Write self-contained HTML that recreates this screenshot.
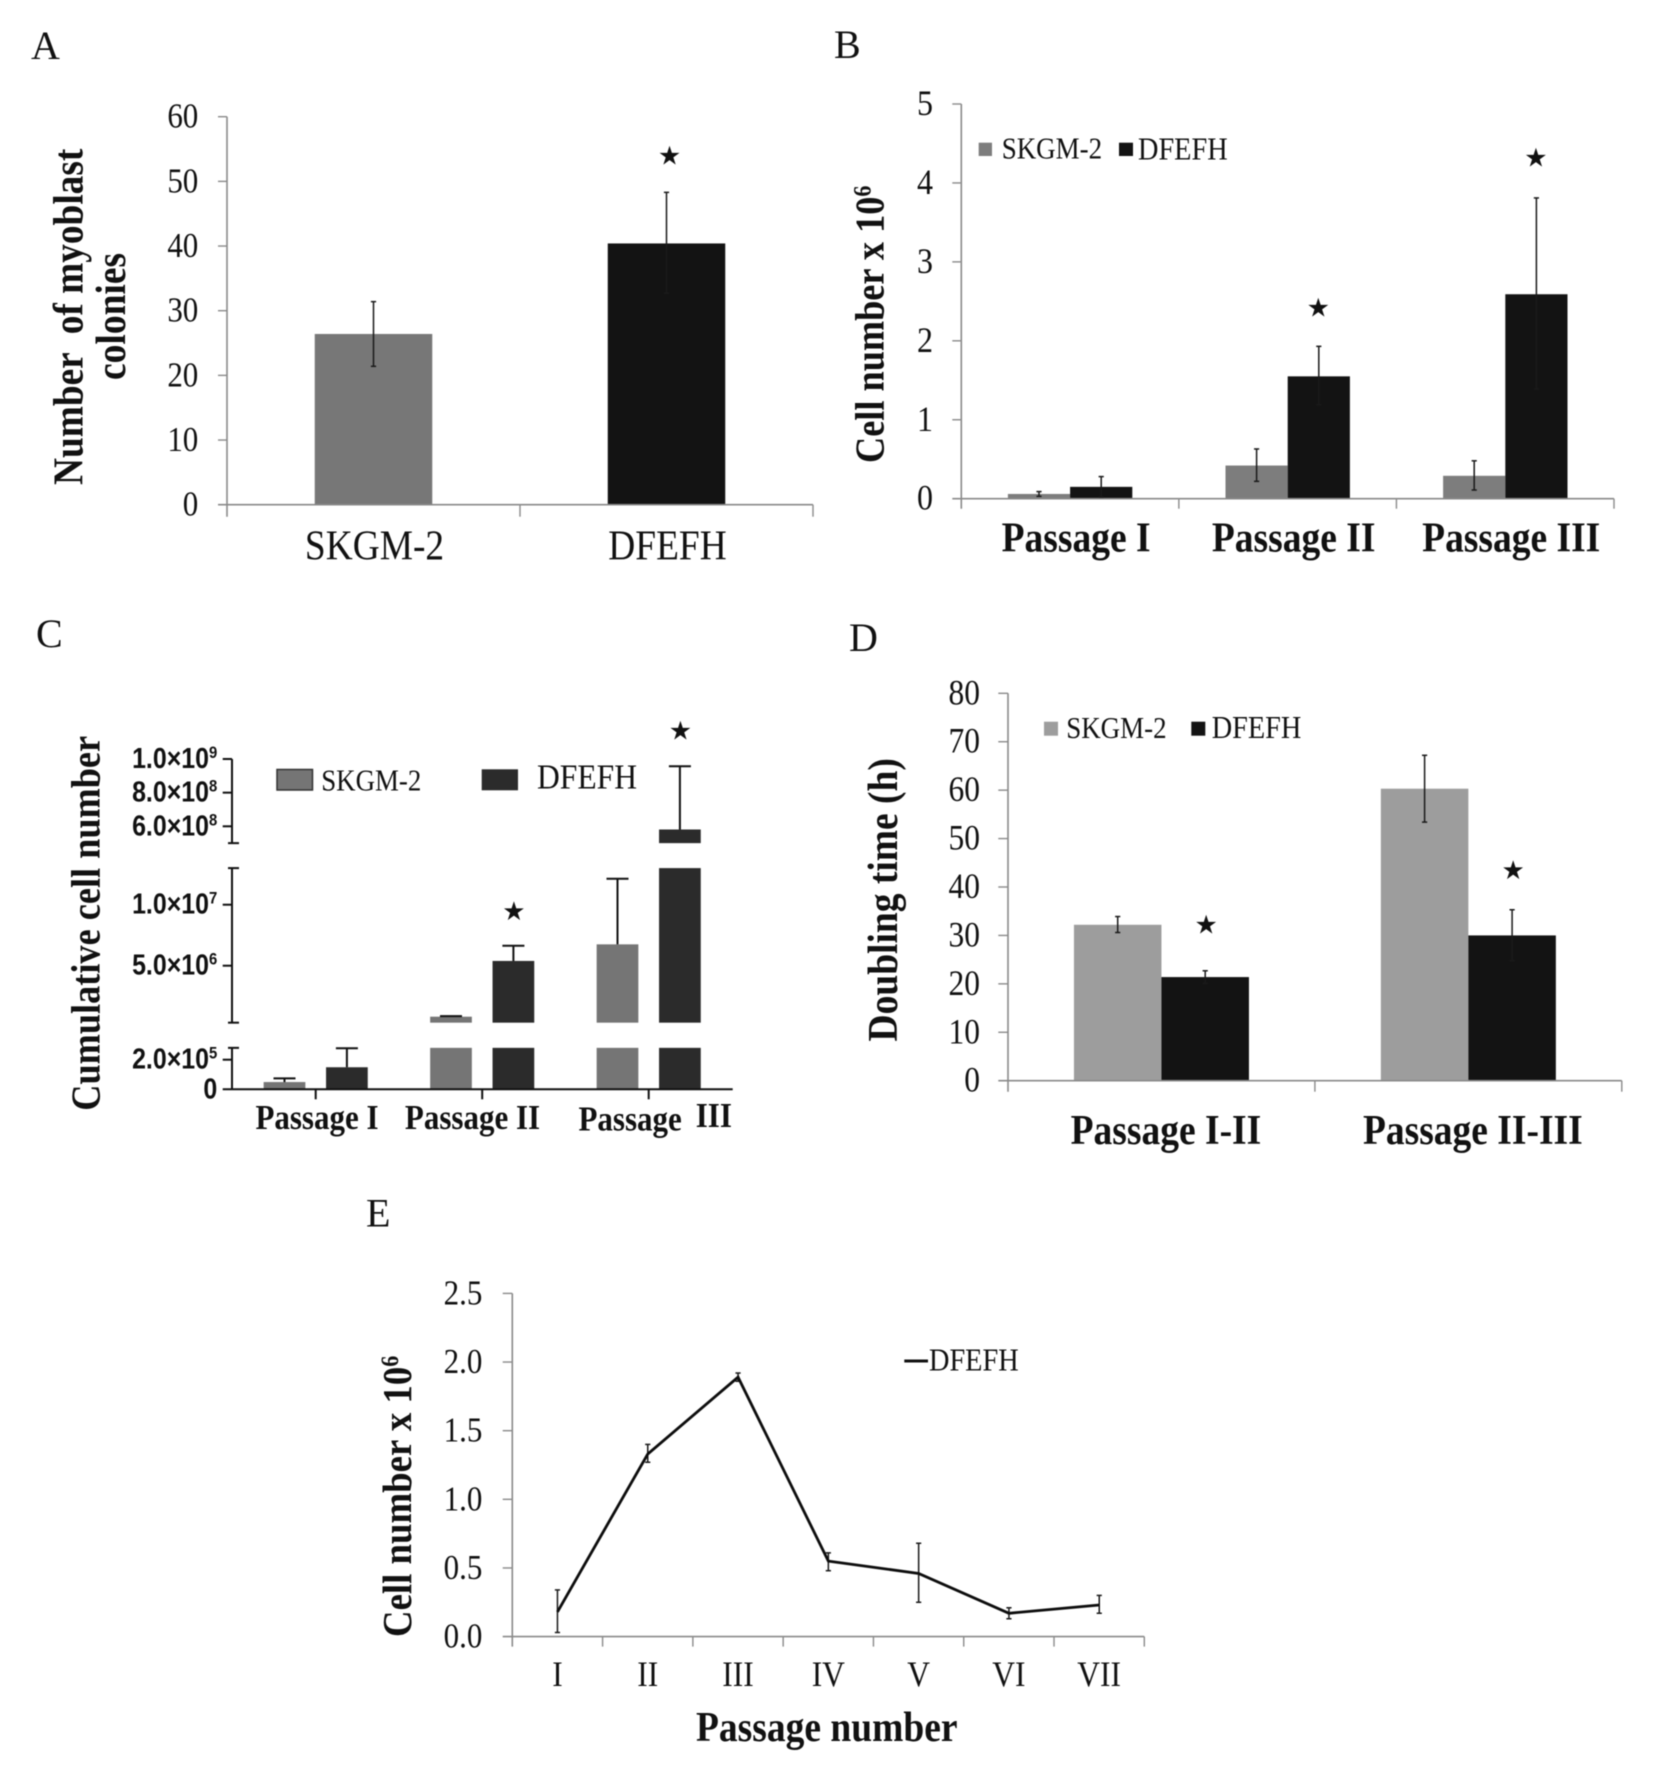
<!DOCTYPE html>
<html lang="en">
<head>
<meta charset="utf-8">
<title>Myoblast culture charts</title>
<style>
html,body{margin:0;padding:0;background:#fff;}
svg{display:block;filter:blur(0.4px);}
text{font-family:"Liberation Serif","Times New Roman",serif;fill:#111;}
.b{font-weight:bold;}
.sans{font-family:"Liberation Sans",Arial,sans-serif;font-weight:bold;}
.star{font-family:"DejaVu Sans",sans-serif;font-size:26px;text-anchor:middle;}
</style>
</head>
<body>
<svg id="figure" width="1654" height="1776" viewBox="0 0 1654 1776" xmlns="http://www.w3.org/2000/svg">
  <rect x="0" y="0" width="1654" height="1776" fill="#fff"/>

  <g id="panelA">
    <text x="31" y="59" font-size="40">A</text>
    <text class="b" font-size="42.2" xml:space="preserve" transform="translate(82.3,485) rotate(-90) scale(.885,1)">Number  of myoblast</text>
    <text class="b" font-size="42.4" transform="translate(125,380) rotate(-90) scale(.885,1)">colonies</text>
  </g>

  <g id="panelB">
    <text x="834" y="58" font-size="40">B</text>
    <text class="b" font-size="41" transform="translate(883.3,463) rotate(-90) scale(.885,1)">Cell number x 10<tspan dy="-13" font-size="25">6</tspan></text>
    <rect x="978.7" y="142.7" width="13.3" height="13.3" fill="#7d7d7d"/>
    <text font-size="30.5" transform="translate(1001.7,158.3) scale(.885,1)">SKGM-2</text>
    <rect x="1119" y="142.7" width="14" height="13.3" fill="#131313"/>
    <text font-size="32" transform="translate(1138,159.3) scale(.885,1)">DFEFH</text>
  </g>

  <g id="panelC">
    <text x="36" y="647" font-size="40">C</text>
    <text class="b" font-size="41" transform="translate(99.3,1110.7) rotate(-90) scale(.885,1)">Cumulative cell number</text>
    <rect x="277" y="769.5" width="35.5" height="20.5" fill="#757575" stroke="#333" stroke-width="1.5"/>
    <text font-size="30.4" transform="translate(321.2,790.7) scale(.885,1)">SKGM-2</text>
    <rect x="481.7" y="769.3" width="36.3" height="21" fill="#2b2b2b"/>
    <text x="537" y="788.3" font-size="35" textLength="100" lengthAdjust="spacingAndGlyphs">DFEFH</text>
  </g>

  <g id="panelD">
    <text x="849" y="651" font-size="40">D</text>
    <text class="b" font-size="42.4" transform="translate(897,1041.5) rotate(-90) scale(.885,1)">Doubling time (h)</text>
    <rect x="1044" y="721.7" width="14" height="14" fill="#9d9d9d"/>
    <text font-size="30.5" transform="translate(1066.2,738) scale(.885,1)">SKGM-2</text>
    <rect x="1191.3" y="721.7" width="14" height="14" fill="#131313"/>
    <text font-size="32" transform="translate(1211.7,738) scale(.885,1)">DFEFH</text>
  </g>

  <g id="panelE">
    <text x="366" y="1226.7" font-size="40">E</text>
    <text class="b" font-size="41.6" transform="translate(411,1637) rotate(-90) scale(.885,1)">Cell number x 10<tspan dy="-13" font-size="25">6</tspan></text>
    <text class="b" font-size="42.4" transform="translate(696,1741) scale(.885,1)">Passage number</text>
    <line x1="904.3" x2="928" y1="1361" y2="1361" stroke="#111" stroke-width="3"/>
    <text font-size="32" transform="translate(929,1370.5) scale(.885,1)">DFEFH</text>
  </g>
</svg>

<script>
// Panel A data
const aCategories = ['SKGM-2', 'DFEFH'];
const aValues = [26.4, 40.4];
const aErrHigh = [31.4, 48.3];
const aErrLow = [21.4, 32.7];
const aTicks = [0, 10, 20, 30, 40, 50, 60];
const aStarValues = [null, 54.1];

// Panel B data
const bCategories = ['Passage I', 'Passage II', 'Passage III'];
const bSkgm = [0.06, 0.42, 0.29];
const bDfefh = [0.15, 1.55, 2.59];
const bSkgmHigh = [0.09, 0.63, 0.48];
const bSkgmLow = [0.03, 0.22, 0.11];
const bDfefhHigh = [0.28, 1.93, 3.81];
const bDfefhLow = [0.02, 1.19, 1.39];
const bTicks = [0, 1, 2, 3, 4, 5];
const bStarValues = [null, 2.43, 4.33];

// Panel C data (broken axis)
const cCategories = ['Passage I', 'Passage II', 'Passage III'];
const cSkgm = [49000, 820000, 6750000];
const cDfefh = [149000, 5390000, 581000000];
const cSkgmHigh = [74000, 870000, 12130000];
const cDfefhHigh = [277000, 6640000, 957000000];
const cTicks = [0, 200000, 5000000, 10000000, 600000000, 800000000, 1000000000];
const cTickBases = ['0', '2.0×10', '5.0×10', '1.0×10', '6.0×10', '8.0×10', '1.0×10'];
const cTickExponents = ['', '5', '6', '7', '8', '8', '9'];
const cAxisBreaks = [[0, 280000], [330000, 13000000], [500000000, 1000000000]];
const cStarValues = [null, 9510000, 1172000000];

// Panel D data
const dCategories = ['Passage I-II', 'Passage II-III'];
const dSkgm = [32.2, 60.3];
const dDfefh = [21.4, 30];
const dSkgmHigh = [33.9, 67.2];
const dSkgmLow = [30.6, 53.4];
const dDfefhHigh = [22.7, 35.3];
const dDfefhLow = [20.1, 24.8];
const dTicks = [0, 10, 20, 30, 40, 50, 60, 70, 80];
const dStarValues = [32.4, 43.6];

// Panel E data
const eCategories = ['I', 'II', 'III', 'IV', 'V', 'VI', 'VII'];
const eValues = [0.18, 1.33, 1.89, 0.55, 0.46, 0.17, 0.23];
const eErrHigh = [0.34, 1.40, 1.92, 0.61, 0.68, 0.21, 0.30];
const eErrLow = [0.03, 1.27, 1.86, 0.48, 0.25, 0.13, 0.17];
const eTicks = [0, 0.5, 1, 1.5, 2, 2.5];

const NS = 'http://www.w3.org/2000/svg';
function make(tag, parent, attrs, content) {
  const node = document.createElementNS(NS, tag);
  for (const key in attrs) node.setAttribute(key, attrs[key]);
  if (content !== undefined) node.textContent = content;
  parent.appendChild(node);
  return node;
}

const AXIS_GRAY = '#8a8a8a';
const TEXT_STRETCH = 1.13;

function drawLine(parent, x1, y1, x2, y2, color, width, name) {
  const el = make('line', parent, {x1: x1, y1: y1, x2: x2, y2: y2, stroke: color, 'stroke-width': width});
  
  
  return el;
}

function drawBar(parent, x, width, yTop, yBottom, fill, name) {
  const el = make('rect', parent, {x: x, y: yTop, width: width, height: yBottom - yTop, fill: fill});
  
  
  return el;
}

function drawErrorBar(parent, x, yHigh, yLow, name) {
  const g = make('g', parent, {stroke: '#1a1a1a', 'stroke-width': 1.5});
  
  
  make('line', g, {x1: x, x2: x, y1: yHigh, y2: yLow});
  make('line', g, {x1: x - 2.6, x2: x + 2.6, y1: yHigh, y2: yHigh});
  make('line', g, {x1: x - 2.6, x2: x + 2.6, y1: yLow, y2: yLow});
  return g;
}

function drawStar(parent, x, y, name) {
  const el = make('text', parent, {x: x, y: y + 9.5, class: 'star'}, '★');
  
  
  return el;
}

// Text in the figure is slightly tall and narrow, so glyphs are drawn larger and squeezed horizontally.
function drawLabel(parent, x, y, anchor, size, bold, content, name) {
  const el = make('text', parent, {
    'text-anchor': anchor,
    'font-size': size * TEXT_STRETCH,
    transform: 'translate(' + x + ',' + y + ') scale(' + (1 / TEXT_STRETCH) + ',1)'
  }, content);
  if (bold) el.setAttribute('class', 'b');
  
  
  return el;
}

// Draws the gray spreadsheet-style axes shared by panels A, B, D and E.
function drawGrayAxes(parent, cfg) {
  drawLine(parent, cfg.x0, cfg.yTop, cfg.x0, cfg.y0 + cfg.tickDown, AXIS_GRAY, 1.6, 'y-axis-line');
  drawLine(parent, cfg.x0 - cfg.tickLeft, cfg.y0, cfg.x1, cfg.y0, AXIS_GRAY, 1.6, 'x-axis-line');
  cfg.ticks.forEach(function (t) {
    const y = cfg.y(t);
    if (t !== 0) drawLine(parent, cfg.x0 - cfg.tickLeft, y, cfg.x0, y, AXIS_GRAY, 1.4, 'y-tick-' + t);
    drawLabel(parent, cfg.labelRight, y + cfg.labelDy, 'end', cfg.tickFont, false, cfg.format(t), 'y-tick-label-' + t);
  });
  const n = cfg.categories.length;
  const step = (cfg.x1 - cfg.x0) / n;
  for (let i = 1; i <= n; i++) {
    const x = cfg.x0 + i * step;
    drawLine(parent, x, cfg.y0, x, cfg.y0 + cfg.tickDown, AXIS_GRAY, 1.4, 'x-tick-' + i);
  }
  cfg.categories.forEach(function (c, i) {
    drawLabel(parent, cfg.x0 + (i + 0.5) * step + cfg.catDx, cfg.catY, 'middle', cfg.catFont, cfg.catBold, c, 'x-tick-label-' + c.toLowerCase().replace(/\s+/g, '-'));
  });
}

/* ---------- Panel A ---------- */
(function () {
  const g = document.getElementById('panelA');
  const y = function (v) { return 504.7 - v * (504.7 - 116.7) / 60; };
  const x = function (i) { return 227 + (i + 0.5) * 293; };
  const colors = ['#777777', '#131313'];
  const barW = 117.5;
  aCategories.forEach(function (c, i) {
    drawBar(g, x(i) - barW / 2, barW, y(aValues[i]), y(0), colors[i], 'bar-' + c.toLowerCase());
  });
  drawGrayAxes(g, {
    x0: 227, x1: 813, y0: y(0), yTop: y(60), y: y, ticks: aTicks, categories: aCategories,
    tickLeft: 9, tickDown: 12, labelRight: 198.3, labelDy: 11, tickFont: 31,
    format: String, catDx: 1, catY: 559.5, catFont: 37.4, catBold: false
  });
  aCategories.forEach(function (c, i) {
    drawErrorBar(g, x(i), y(aErrHigh[i]), y(aErrLow[i]), 'error-bar-' + c.toLowerCase());
    if (aStarValues[i] !== null) drawStar(g, x(i) + 3, y(aStarValues[i]), 'significance-star-' + c.toLowerCase());
  });
})();

/* ---------- Panel B ---------- */
(function () {
  const g = document.getElementById('panelB');
  const y = function (v) { return 498.7 - v * (498.7 - 104) / 5; };
  const x = function (i) { return 961.3 + (i + 0.5) * 217.6; };
  const barW = 62.2;
  bCategories.forEach(function (c, i) {
    const slug = c.toLowerCase().replace(/\s+/g, '-');
    drawBar(g, x(i) - barW, barW, y(bSkgm[i]), y(0), '#7d7d7d', 'bar-skgm-2-' + slug);
    drawBar(g, x(i), barW, y(bDfefh[i]), y(0), '#131313', 'bar-dfefh-' + slug);
  });
  drawGrayAxes(g, {
    x0: 961.3, x1: 1614, y0: y(0), yTop: y(5), y: y, ticks: bTicks, categories: bCategories,
    tickLeft: 9, tickDown: 10, labelRight: 933, labelDy: 11, tickFont: 32,
    format: String, catDx: 6, catY: 551.5, catFont: 37.5, catBold: true
  });
  bCategories.forEach(function (c, i) {
    const slug = c.toLowerCase().replace(/\s+/g, '-');
    drawErrorBar(g, x(i) - barW / 2, y(bSkgmHigh[i]), y(bSkgmLow[i]), 'error-bar-skgm-2-' + slug);
    drawErrorBar(g, x(i) + barW / 2, y(bDfefhHigh[i]), y(bDfefhLow[i]), 'error-bar-dfefh-' + slug);
    if (bStarValues[i] !== null) drawStar(g, x(i) + barW / 2 - 0.5, y(bStarValues[i]), 'significance-star-' + slug);
  });
})();

/* ---------- Panel C (broken axis) ---------- */
(function () {
  const g = document.getElementById('panelC');
  const y = function (v) {
    if (v <= cAxisBreaks[0][1]) return 1089.3 - v * 29.6 / 200000;
    if (v <= cAxisBreaks[1][1]) return 965.7 - (v - 5000000) * 61 / 5000000;
    return 759 - (v - 1000000000) * 33.65 / 200000000;
  };
  const x = function (i) { return 315.7 + i * 166.5; };
  const barW = 41.7;
  const offset = 31.2;
  const AX = '#111';

  function brokenBar(value, cx, fill, name) {
    cAxisBreaks.forEach(function (seg, s) {
      if (value > seg[0]) {
        drawBar(g, cx - barW / 2, barW, y(Math.min(value, seg[1])), y(seg[0]), fill, name + '-segment-' + (s + 1));
      }
    });
  }
  function upperError(value, high, cx, name) {
    const e = make('g', g, {stroke: '#111', 'stroke-width': 2});
    
    
    make('line', e, {x1: cx, x2: cx, y1: y(high), y2: y(value)});
    make('line', e, {x1: cx - 11, x2: cx + 11, y1: y(high), y2: y(high)});
  }

  cCategories.forEach(function (c, i) {
    const slug = c.toLowerCase().replace(/\s+/g, '-');
    brokenBar(cSkgm[i], x(i) - offset, '#757575', 'bar-skgm-2-' + slug);
    brokenBar(cDfefh[i], x(i) + offset, '#2b2b2b', 'bar-dfefh-' + slug);
    upperError(cSkgm[i], cSkgmHigh[i], x(i) - offset, 'error-bar-skgm-2-' + slug);
    upperError(cDfefh[i], cDfefhHigh[i], x(i) + offset, 'error-bar-dfefh-' + slug);
    if (cStarValues[i] !== null) drawStar(g, x(i) + offset + 0.5, y(cStarValues[i]), 'significance-star-' + slug);
    const tx = x(i);
    drawLine(g, tx, y(0), tx, y(0) + 10, AX, 2, 'x-tick-' + (i + 1));
  });

  // Broken y axis: one stroke per data range with end caps
  cAxisBreaks.forEach(function (seg, s) {
    const top = y(seg[1]);
    const bottom = y(seg[0]);
    drawLine(g, 232, top, 232, bottom, AX, 2, 'y-axis-segment-' + (s + 1));
    if (s !== 2) drawLine(g, 228, top, 239, top, AX, 2, 'y-axis-break-cap-top-' + (s + 1));
    if (s !== 0) drawLine(g, 228, bottom, 239, bottom, AX, 2, 'y-axis-break-cap-bottom-' + (s + 1));
  });
  drawLine(g, 222.7, y(0), 732.7, y(0), AX, 2, 'x-axis-line');

  cTicks.forEach(function (t, i) {
    const ty = y(t);
    if (t !== 0) drawLine(g, 222.7, ty, 232, ty, AX, 2, 'y-tick-' + i);
    const label = make('text', g, {
      'text-anchor': 'end',
      'font-size': 28.5,
      class: 'sans',
      transform: 'translate(217.3,' + (ty + 9) + ') scale(.875,1)'
    }, cTickBases[i]);
    
    
    if (cTickExponents[i]) {
      const sup = make('tspan', label, {dy: -10, 'font-size': 17}, cTickExponents[i]);
      
      
    }
  });

  drawLabel(g, 317, 1128.8, 'middle', 31, true, cCategories[0], 'x-tick-label-passage-i');
  drawLabel(g, 472.5, 1128.8, 'middle', 31, true, cCategories[1], 'x-tick-label-passage-ii');
  const parts = cCategories[2].split(' ');
  drawLabel(g, 578.5, 1130.5, 'start', 31, true, parts[0], 'x-tick-label-passage-iii-word');
  drawLabel(g, 695.7, 1127, 'start', 31, true, parts[1], 'x-tick-label-passage-iii-numeral');
})();

/* ---------- Panel D ---------- */
(function () {
  const g = document.getElementById('panelD');
  const y = function (v) { return 1080.7 - v * (1080.7 - 693.3) / 80; };
  const x = function (i) { return 1008 + (i + 0.5) * 306.9; };
  const barW = 87.5;
  dCategories.forEach(function (c, i) {
    const slug = c.toLowerCase().replace(/\s+/g, '-');
    drawBar(g, x(i) - barW, barW, y(dSkgm[i]), y(0), '#9d9d9d', 'bar-skgm-2-' + slug);
    drawBar(g, x(i), barW, y(dDfefh[i]), y(0), '#131313', 'bar-dfefh-' + slug);
  });
  drawGrayAxes(g, {
    x0: 1008, x1: 1621.8, y0: y(0), yTop: y(80), y: y, ticks: dTicks, categories: dCategories,
    tickLeft: 9.7, tickDown: 11, labelRight: 980, labelDy: 11, tickFont: 31.5,
    format: String, catDx: 4.5, catY: 1143.8, catFont: 37.5, catBold: true
  });
  dCategories.forEach(function (c, i) {
    const slug = c.toLowerCase().replace(/\s+/g, '-');
    drawErrorBar(g, x(i) - barW / 2, y(dSkgmHigh[i]), y(dSkgmLow[i]), 'error-bar-skgm-2-' + slug);
    drawErrorBar(g, x(i) + barW / 2, y(dDfefhHigh[i]), y(dDfefhLow[i]), 'error-bar-dfefh-' + slug);
    drawStar(g, x(i) + barW / 2 + 1, y(dStarValues[i]), 'significance-star-' + slug);
  });
})();

/* ---------- Panel E ---------- */
(function () {
  const g = document.getElementById('panelE');
  const y = function (v) { return 1636.6 - v * (1636.6 - 1293.4) / 2.5; };
  const x = function (i) { return 512.3 + (i + 0.5) * 90.3; };
  drawGrayAxes(g, {
    x0: 512.3, x1: 1144.3, y0: y(0), yTop: y(2.5), y: y, ticks: eTicks, categories: eCategories,
    tickLeft: 9.6, tickDown: 10, labelRight: 482.4, labelDy: 11, tickFont: 31,
    format: function (t) { return t.toFixed(1); }, catDx: 0, catY: 1686, catFont: 31.5, catBold: false
  });
  eCategories.forEach(function (c, i) {
    drawErrorBar(g, x(i), y(eErrHigh[i]), y(eErrLow[i]), 'error-bar-passage-' + c.toLowerCase());
  });
  const points = eValues.map(function (v, i) { return x(i) + ',' + y(v); }).join(' ');
  const line = make('polyline', g, {points: points, fill: 'none', stroke: '#0d0d0d', 'stroke-width': 2.8, 'stroke-linejoin': 'miter'});
  
  
})();
</script>
</body>
</html>
